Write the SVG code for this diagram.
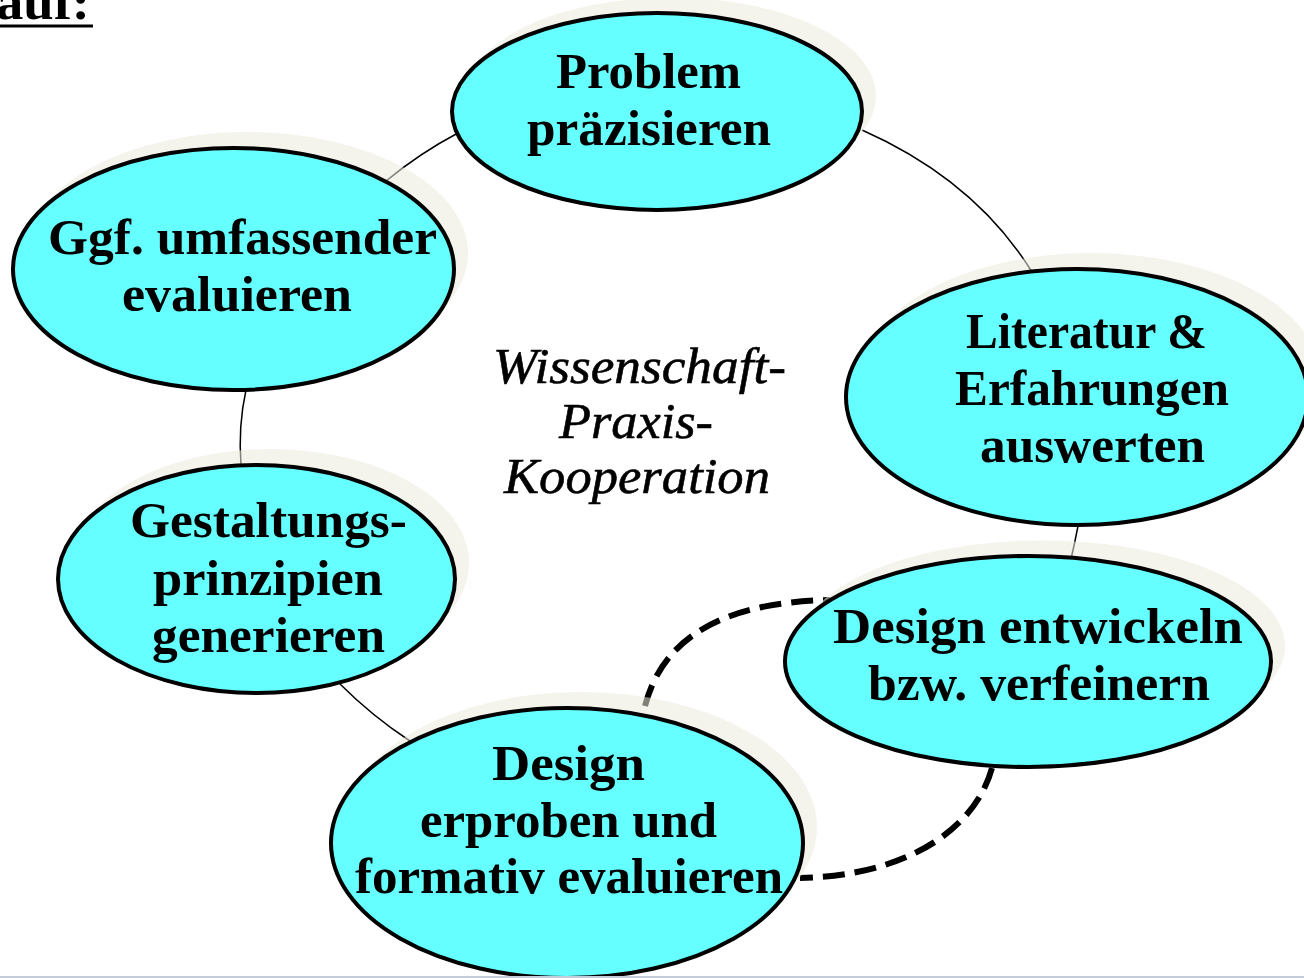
<svg xmlns="http://www.w3.org/2000/svg" width="1304" height="978" viewBox="0 0 1304 978">
<style>
.shadow{fill:#ebe9dc;fill-opacity:0.55}
.node{fill:#66ffff;stroke:#000;stroke-width:4}
.lbl{font-family:"Liberation Serif","Times New Roman",serif;font-weight:bold;font-size:50px;fill:#000;text-anchor:middle}
.ctr{font-family:"Liberation Serif","Times New Roman",serif;font-style:italic;font-size:50px;fill:#000;text-anchor:middle;stroke:#000;stroke-width:0.6}
.thin{fill:none;stroke:#000;stroke-width:1.5}
.dash{fill:none;stroke:#000;stroke-width:6;stroke-dasharray:22 10}
</style>
<rect x="0" y="0" width="1304" height="978" fill="#fff"/>
<g id="title">
<text x="-4" y="19" class="lbl" style="text-anchor:start" textLength="94" lengthAdjust="spacingAndGlyphs">auf:</text>
<rect x="0" y="24.5" width="93" height="3" fill="#000"/>
</g>
<g id="connectors">
<path class="thin" d="M458,133 Q420,153 386,181"/>
<path class="thin" d="M862,130 Q975,180 1032,272"/>
<path class="thin" d="M1078,526 Q1075,542 1071,559"/>
<path class="thin" d="M340,684 Q372,716 410,741"/>
<path class="thin" d="M246,390 Q238,426 241,466"/>
<path class="dash" d="M645,706 C662,640 720,602 830,600"/>
<path class="dash" d="M992,768 C975,830 905,876 800,878"/>
</g>
<g id="n-problem">
<ellipse class="shadow" cx="671" cy="96" rx="205" ry="98.5"/>
<ellipse class="node" cx="657" cy="111.5" rx="205" ry="98.5"/>
<text class="lbl" x="648.5" y="88" textLength="185" lengthAdjust="spacingAndGlyphs">Problem</text>
<text class="lbl" x="649" y="145" textLength="244" lengthAdjust="spacingAndGlyphs">präzisieren</text>
</g>
<g id="n-literatur">
<ellipse class="shadow" cx="1091" cy="381" rx="231" ry="128"/>
<ellipse class="node" cx="1077" cy="397" rx="231" ry="128"/>
<text class="lbl" x="1086.5" y="348" textLength="241" lengthAdjust="spacingAndGlyphs">Literatur &amp;</text>
<text class="lbl" x="1092" y="405" textLength="274" lengthAdjust="spacingAndGlyphs">Erfahrungen</text>
<text class="lbl" x="1092.5" y="462" textLength="225" lengthAdjust="spacingAndGlyphs">auswerten</text>
</g>
<g id="n-design-entwickeln">
<ellipse class="shadow" cx="1042" cy="646" rx="243" ry="105.5"/>
<ellipse class="node" cx="1028" cy="661.5" rx="243" ry="105.5"/>
<text class="lbl" x="1038" y="643" textLength="410" lengthAdjust="spacingAndGlyphs">Design entwickeln</text>
<text class="lbl" x="1039" y="700" textLength="342" lengthAdjust="spacingAndGlyphs">bzw. verfeinern</text>
</g>
<g id="n-design-erproben">
<ellipse class="shadow" cx="581" cy="827" rx="236" ry="135"/>
<ellipse class="node" cx="567" cy="843" rx="236" ry="135"/>
<text class="lbl" x="568.5" y="780" textLength="153" lengthAdjust="spacingAndGlyphs">Design</text>
<text class="lbl" x="568.5" y="837" textLength="297" lengthAdjust="spacingAndGlyphs">erproben und</text>
<text class="lbl" x="569" y="893" textLength="428" lengthAdjust="spacingAndGlyphs">formativ evaluieren</text>
</g>
<g id="n-gestaltung">
<ellipse class="shadow" cx="270.5" cy="563" rx="198.5" ry="114"/>
<ellipse class="node" cx="256.5" cy="579" rx="198.5" ry="114"/>
<text class="lbl" x="268.5" y="537" textLength="277" lengthAdjust="spacingAndGlyphs">Gestaltungs-</text>
<text class="lbl" x="268" y="595" textLength="230" lengthAdjust="spacingAndGlyphs">prinzipien</text>
<text class="lbl" x="268.5" y="652" textLength="233" lengthAdjust="spacingAndGlyphs">generieren</text>
</g>
<g id="n-ggf">
<ellipse class="shadow" cx="247.5" cy="253" rx="220.5" ry="121"/>
<ellipse class="node" cx="233.5" cy="269" rx="220.5" ry="121"/>
<text class="lbl" x="242.5" y="254" textLength="389" lengthAdjust="spacingAndGlyphs">Ggf. umfassender</text>
<text class="lbl" x="237" y="311" textLength="230" lengthAdjust="spacingAndGlyphs">evaluieren</text>
</g>
<g id="center-label">
<text class="ctr" x="639.5" y="383" textLength="293" lengthAdjust="spacingAndGlyphs">Wissenschaft-</text>
<text class="ctr" x="636" y="438" textLength="154" lengthAdjust="spacingAndGlyphs">Praxis-</text>
<text class="ctr" x="637" y="493" textLength="266" lengthAdjust="spacingAndGlyphs">Kooperation</text>
</g>
<rect x="0" y="976" width="1304" height="2" fill="#c4ccd9"/>
</svg>
